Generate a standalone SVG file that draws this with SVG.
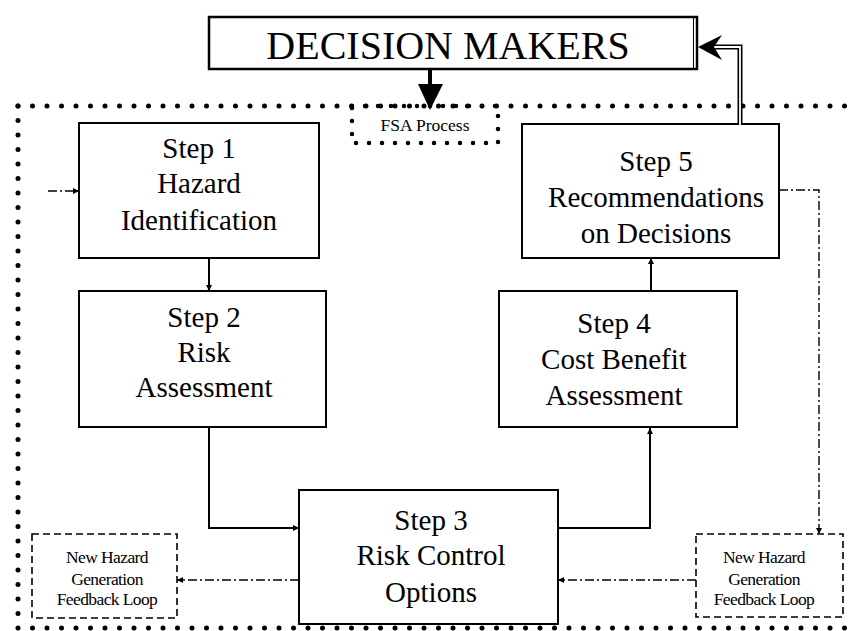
<svg xmlns="http://www.w3.org/2000/svg" width="848" height="631" viewBox="0 0 848 631">
<style>
.box{fill:#fff;stroke:#000;stroke-width:2}
.dots{fill:none;stroke:#000;stroke-width:5;stroke-linecap:round;stroke-dasharray:0 14.5}
.dash{fill:#fff;stroke:#000;stroke-width:1.6;stroke-dasharray:7 4}
.solid{fill:none;stroke:#000;stroke-width:2}
.dd{fill:none;stroke:#000;stroke-width:1.4;stroke-dasharray:9 3 2 3}
</style>
<defs>
<marker id="ah" viewBox="0 0 10 10" refX="10" refY="5" markerWidth="6" markerHeight="6" markerUnits="userSpaceOnUse" orient="auto">
<path d="M0,0 L10,5 L0,10 Z" fill="#000"/>
</marker>
</defs>
<rect fill="#fff" x="0" y="0" width="848" height="631"/>

<g id="boundary">
<path class="dots" d="M18,106 L848,106"/>
<path class="dots" d="M18,106 L18,628 L848,628"/>
</g>

<g id="fsa-process">
<rect x="352" y="106" width="146" height="37" fill="none" stroke="#000" stroke-width="4.5" stroke-linecap="round" stroke-dasharray="0 13"/>
<text x="425" y="131" font-family="Liberation Serif, Times New Roman, serif" font-size="17.5" text-anchor="middle">FSA Process</text>
</g>

<g id="decision-makers">
<rect x="209" y="17" width="488" height="52" fill="#fff" stroke="#000" stroke-width="2.5"/>
<line x1="693.5" y1="18" x2="693.5" y2="68" stroke="#000" stroke-width="1"/>
<text x="448" y="59" font-family="Liberation Serif, Times New Roman, serif" font-size="40" text-anchor="middle">DECISION MAKERS</text>
</g>

<g id="step1" font-family="Liberation Serif, Times New Roman, serif" font-size="29" text-anchor="middle">
<rect class="box" x="79" y="123" width="240" height="135"/>
<text x="199" y="158">Step 1</text>
<text x="199" y="193">Hazard</text>
<text x="199" y="230">Identification</text>
</g>

<g id="step2" font-family="Liberation Serif, Times New Roman, serif" font-size="29" text-anchor="middle">
<rect class="box" x="79" y="291" width="247" height="136"/>
<text x="204" y="327">Step 2</text>
<text x="204" y="362">Risk</text>
<text x="204" y="397">Assessment</text>
</g>

<g id="step3" font-family="Liberation Serif, Times New Roman, serif" font-size="29" text-anchor="middle">
<rect class="box" x="299" y="490" width="259" height="134"/>
<text x="431" y="530">Step 3</text>
<text x="431" y="565">Risk Control</text>
<text x="431" y="602">Options</text>
</g>

<g id="step4" font-family="Liberation Serif, Times New Roman, serif" font-size="29" text-anchor="middle">
<rect class="box" x="499" y="291" width="238" height="136"/>
<text x="614" y="333">Step 4</text>
<text x="614" y="369">Cost Benefit</text>
<text x="614" y="405">Assessment</text>
</g>

<g id="step5" font-family="Liberation Serif, Times New Roman, serif" font-size="29" text-anchor="middle">
<rect class="box" x="522" y="124" width="257" height="134"/>
<text x="656" y="171">Step 5</text>
<text x="656" y="207">Recommendations</text>
<text x="656" y="243">on Decisions</text>
</g>

<g id="feedback-left" font-family="Liberation Serif, Times New Roman, serif" font-size="17.5" text-anchor="middle" letter-spacing="-0.6">
<rect class="dash" x="32" y="534" width="145" height="84"/>
<text x="107" y="563">New Hazard</text>
<text x="107" y="585">Generation</text>
<text x="107" y="605">Feedback Loop</text>
</g>

<g id="feedback-right" font-family="Liberation Serif, Times New Roman, serif" font-size="17.5" text-anchor="middle" letter-spacing="-0.6">
<rect class="dash" x="696" y="534" width="147" height="83"/>
<text x="764" y="563">New Hazard</text>
<text x="764" y="585">Generation</text>
<text x="764" y="605">Feedback Loop</text>
</g>

<g id="connectors">
<line x1="430" y1="69" x2="430" y2="86" stroke="#000" stroke-width="4"/>
<path d="M418,84 L443,84 L430,110 Z" fill="#000"/>
<path d="M740,124 L740,47 L712,47" fill="none" stroke="#000" stroke-width="5"/>
<path d="M740,125 L740,47 L712,47" fill="none" stroke="#fff" stroke-width="1.8"/>
<path d="M698,47 L722,35 L714,47 L722,60 Z" fill="#000"/>
<path class="solid" d="M209,258 L209,291" marker-end="url(#ah)"/>
<path class="solid" d="M209,427 L209,528 L299,528" marker-end="url(#ah)"/>
<path class="solid" d="M558,528 L650,528 L650,428" marker-end="url(#ah)"/>
<path class="solid" d="M651,291 L651,258" marker-end="url(#ah)"/>
<path class="dd" d="M48,191 L79,191" marker-end="url(#ah)"/>
<path class="dd" d="M779,190 L819,190 L819,534" marker-end="url(#ah)"/>
<path class="dd" d="M696,580 L558,580" marker-end="url(#ah)"/>
<path class="dd" d="M299,580 L177,580" marker-end="url(#ah)"/>
</g>
</svg>
